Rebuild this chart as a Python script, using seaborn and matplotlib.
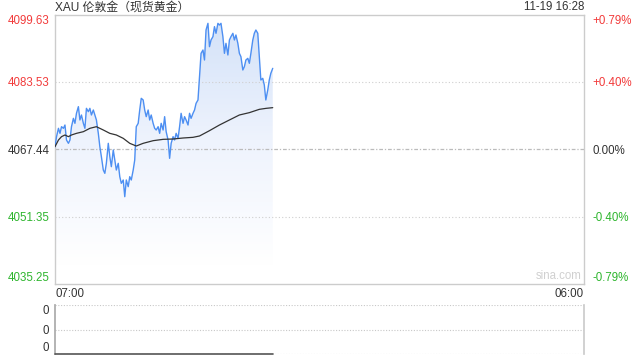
import numpy as np
import pandas as pd
import matplotlib
matplotlib.use("Agg")
import matplotlib.pyplot as plt
import seaborn as sns
from matplotlib.colors import LinearSegmentedColormap

# ---------------- data ----------------
title = "XAU 伦敦金（现货黄金）"
stamp = "11-19 16:28"
x_tick_labels = ["07:00", "06:00"]
session_minutes = 1380  # 07:00 -> 06:00 next day

price_levels = [4035.25, 4051.35, 4067.44, 4083.53, 4099.63]
price_labels = ["4035.25", "4051.35", "4067.44", "4083.53", "4099.63"]
pct_labels = ["-0.79%", "-0.40%", "0.00%", "+0.40%", "+0.79%"]

minutes = [0, 4, 9, 13, 17, 22, 26, 30, 35, 39, 43, 48, 52, 56, 61, 65, 69, 74, 78, 82,
           87, 91, 95, 100, 104, 108, 113, 117, 121, 126, 130, 134, 139, 143, 147, 152,
           156, 160, 165, 169, 173, 178, 182, 186, 191, 195, 199, 204, 208, 212, 217, 221,
           225, 230, 234, 238, 243, 247, 251, 256, 260, 264, 269, 273, 277, 282, 286, 290,
           295, 299, 303, 308, 312, 316, 321, 325, 329, 334, 338, 342, 347, 351, 355, 360,
           364, 368, 373, 377, 381, 386, 390, 394, 399, 403, 407, 412, 416, 420, 425, 429,
           433, 438, 442, 446, 451, 455, 459, 464, 468, 472, 477, 481, 485, 490, 494, 498,
           503, 507, 511, 516, 520, 524, 529, 533, 537, 542, 546, 550, 555, 559, 563, 568]

prices = [4068.09, 4070.48, 4072.47, 4071.27, 4072.86, 4072.47, 4073.26, 4069.68, 4068.89, 4069.68,
          4072.86, 4074.85, 4073.66, 4076.05, 4077.64, 4074.46, 4075.65, 4073.66, 4072.47, 4077.24,
          4076.44, 4077.24, 4075.65, 4076.84, 4075.65, 4074.46, 4071.27, 4068.09, 4065.71, 4062.52,
          4061.73, 4064.12, 4068.89, 4065.71, 4063.32, 4067.30, 4064.91, 4062.52, 4064.12, 4060.93,
          4059.34, 4060.14, 4056.16, 4060.14, 4058.55, 4060.93, 4060.14, 4062.52, 4064.91, 4072.86,
          4073.66, 4076.84, 4079.63, 4079.23, 4076.84, 4075.25, 4076.84, 4074.46, 4075.65, 4073.66,
          4072.47, 4072.07, 4072.86, 4071.27, 4073.66, 4072.07, 4075.25, 4071.67, 4069.68, 4065.31,
          4068.89, 4070.48, 4069.68, 4071.27, 4070.08, 4072.86, 4076.05, 4073.66, 4075.25, 4074.46,
          4073.26, 4076.05, 4074.85, 4076.05, 4076.84, 4078.43, 4079.23, 4084.80, 4090.36, 4091.16,
          4088.77, 4095.93, 4097.52, 4091.95, 4093.55, 4094.34, 4096.73, 4095.14, 4097.52, 4097.12,
          4097.52, 4094.34, 4090.36, 4092.75, 4089.97, 4093.55, 4094.34, 4095.14, 4093.55, 4094.74,
          4092.75, 4090.36, 4089.57, 4086.39, 4087.18, 4088.77, 4089.17, 4087.98, 4090.36, 4093.55,
          4095.14, 4095.93, 4095.14, 4089.57, 4084.00, 4084.40, 4082.81, 4079.23, 4081.61, 4084.00,
          4085.59, 4086.78]

avg_minutes = [0, 9, 17, 26, 35, 43, 56, 74, 91, 108, 126, 143, 160, 178, 195, 212, 230,
               256, 282, 308, 334, 360, 377, 403, 429, 455, 481, 507, 533, 551, 568]
avg_prices = [4068.09, 4069.68, 4070.48, 4070.88, 4070.48, 4070.88, 4071.27, 4071.67, 4072.47,
              4072.86, 4072.07, 4071.27, 4070.88, 4070.08, 4068.89, 4068.25, 4068.89, 4069.52,
              4069.84, 4069.92, 4070.16, 4070.32, 4070.64, 4071.91, 4073.26, 4074.46, 4075.65,
              4076.21, 4077.00, 4077.24, 4077.40]

volume_values = [0] * len(minutes)
volume_labels = ["0", "0", "0"]

# ---------------- styling ----------------
sns.set_theme(style="white")
plt.rcParams["font.family"] = ["Liberation Sans", "Noto Sans CJK SC", "DejaVu Sans"]

RED = "#f23b3b"
GREEN = "#2eb52e"
DARK = "#333333"
LINE = "#4d8ff2"
BORDER = "#cccccc"

fig = plt.figure(figsize=(6.4, 3.6), dpi=100)
W, H = 640, 360
left, right = 55 / W, 584 / W
ax = fig.add_axes([left, 1 - 284.3 / H, right - left, (284.3 - 14.5) / H])
axv = fig.add_axes([left, 1 - 354.3 / H, right - left, (354.3 - 305) / H])

ymin, ymax = price_levels[0], price_levels[-1]
ax.set_xlim(0, session_minutes)
ax.set_ylim(ymin, ymax)

df = pd.DataFrame({"t": minutes, "p": prices})
dfa = pd.DataFrame({"t": avg_minutes, "p": avg_prices})

# gradient fill under the price line
poly = ax.fill_between(df["t"], df["p"], ymin, color="none", lw=0)
cmap = LinearSegmentedColormap.from_list("g", ["#ffffff", "#eef3fd", "#d2e1f8"])
grad = np.linspace(0, 1, 256).reshape(-1, 1)
im = ax.imshow(grad, cmap=cmap, aspect="auto", origin="lower",
               extent=[0, max(minutes), ymin + 4.5, ymax], zorder=1, interpolation="bilinear")
im.set_clip_path(poly.get_paths()[0], transform=ax.transData)

# grid lines
ax.axhline(price_levels[1], color="#cfcfcf", lw=0.8, ls=(0, (1, 2)), zorder=2)
ax.axhline(price_levels[3], color="#cfcfcf", lw=0.8, ls=(0, (1, 2)), zorder=2)
ax.axhline(price_levels[2], color="#bbbbbb", lw=0.9, ls=(0, (3, 1.5, 1, 1.5)), zorder=2)

sns.lineplot(data=df, x="t", y="p", ax=ax, color=LINE, lw=1.0, zorder=3)
sns.lineplot(data=dfa, x="t", y="p", ax=ax, color=DARK, lw=0.9, zorder=4)
ax.set_xlabel("")
ax.set_ylabel("")

for s in ax.spines.values():
    s.set_color(BORDER)
    s.set_linewidth(1.0)

colors = [GREEN, GREEN, DARK, RED, RED]
ax.set_yticks(price_levels)
ax.set_yticklabels(price_labels)
ax.tick_params(axis="y", length=0, pad=4, labelsize=8.3)
for lab, c in zip(ax.get_yticklabels(), colors):
    lab.set_color(c)
ax.get_yticklabels()[0].set_va("bottom")
ax.get_yticklabels()[-1].set_va("top")

ax2 = ax.twinx()
ax2.set_ylim(ymin, ymax)
ax2.set_yticks(price_levels)
ax2.set_yticklabels(pct_labels)
ax2.tick_params(axis="y", length=0, pad=6, labelsize=8.3)
for lab, c in zip(ax2.get_yticklabels(), colors):
    lab.set_color(c)
ax2.get_yticklabels()[0].set_va("bottom")
ax2.get_yticklabels()[-1].set_va("top")
for s in ax2.spines.values():
    s.set_visible(False)

ax.set_xticks([0, session_minutes])
ax.set_xticklabels(x_tick_labels)
ax.tick_params(axis="x", length=0, pad=3, labelsize=8.3, labelcolor=DARK)
ax.get_xticklabels()[0].set_ha("left")
ax.get_xticklabels()[1].set_ha("right")

ax.text(0.995, 0.008, "sina.com", transform=ax.transAxes, ha="right", va="bottom",
        fontsize=8.3, color="#d0d0d0")

fig.text(left, 1 - 7.5 / H, title, ha="left", va="center", fontsize=8.6, color=DARK)
fig.text(right, 1 - 7.5 / H, stamp, ha="right", va="center", fontsize=8.3, color=DARK)

# volume panel
axv.set_xlim(0, session_minutes)
axv.set_ylim(0, 1)
for yv in (0, 0.5, 1):
    axv.axhline(yv, color="#c8c8c8", lw=0.8, ls=(0, (1, 1.5)), zorder=0)
dfv = pd.DataFrame({"t": minutes, "v": volume_values})
sns.lineplot(data=dfv, x="t", y="v", ax=axv, color="#555555", lw=1.2, zorder=3, clip_on=False)
axv.set_xlabel("")
axv.set_ylabel("")
axv.set_xticks([])
axv.set_yticks([0, 0.5, 1])
axv.set_yticklabels(volume_labels)
axv.tick_params(axis="y", length=0, pad=4, labelsize=8.3, labelcolor=DARK)
axv.get_yticklabels()[0].set_va("bottom")
axv.get_yticklabels()[-1].set_va("top")
axv.spines["top"].set_visible(False)
axv.spines["bottom"].set_visible(False)
axv.spines["left"].set_color("#aaaaaa")
axv.spines["right"].set_color(BORDER)

fig.savefig("out.png", dpi=100)
